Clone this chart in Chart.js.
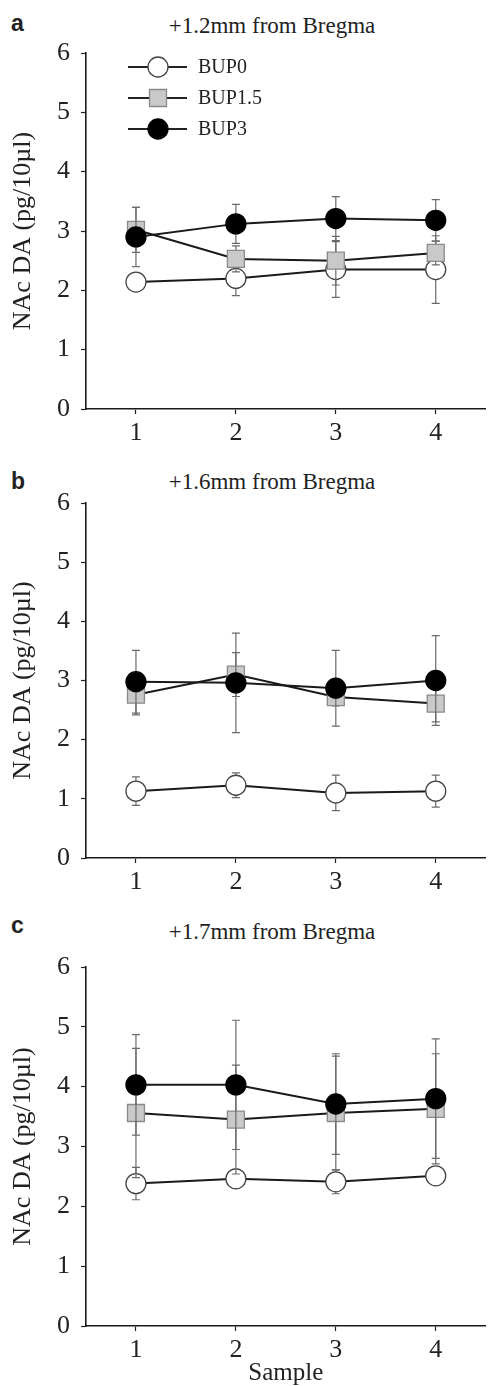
<!DOCTYPE html>
<html>
<head>
<meta charset="utf-8">
<title>NAc DA</title>
<script src="https://cdn.jsdelivr.net/npm/chart.js@4/dist/chart.umd.min.js"></script>
<style>
  html, body { margin: 0; padding: 0; background: #fff; }
  body { width: 499px; height: 1386px; position: relative; overflow: hidden; }
  canvas { position: absolute; left: 0; }
  .letra { position: absolute; left: 11px; font: bold 23px "Liberation Sans", Arial, sans-serif; line-height: 23px; color: #222; }
  .titulo { position: absolute; left: 72px; width: 400px; text-align: center; font: 23px "Liberation Serif", "Times New Roman", serif; line-height: 23px; color: #222; }
</style>
</head>
<body>
<div class="letra" style="top: 12px;">a</div>
<div class="titulo" style="top: 14px;">+1.2mm from Bregma</div>
<canvas id="graficoA" width="499" height="460" style="top: 0px;"></canvas>

<div class="letra" style="top: 470px;">b</div>
<div class="titulo" style="top: 470px;">+1.6mm from Bregma</div>
<canvas id="graficoB" width="499" height="445" style="top: 460px;"></canvas>

<div class="letra" style="top: 914px;">c</div>
<div class="titulo" style="top: 920px;">+1.7mm from Bregma</div>
<canvas id="graficoC" width="499" height="481" style="top: 905px;"></canvas>

<script>
// datos
const muestras = [1, 2, 3, 4];
const nombres = ['BUP0', 'BUP1.5', 'BUP3'];
const ticksY = [0, 1, 2, 3, 4, 5, 6];

// panel a: +1.2mm
const bup0A = [2.14, 2.20, 2.35, 2.35];
const bup0AErr = [0.05, 0.29, 0.47, 0.57];
const bup15A = [3.02, 2.53, 2.50, 2.63];
const bup15AErr = [0.38, 0.22, 0.41, 0.20];
const bup3A = [2.90, 3.12, 3.21, 3.18];
const bup3AErr = [0.50, 0.33, 0.37, 0.35];

// panel b: +1.6mm
const bup0B = [1.13, 1.23, 1.10, 1.13];
const bup0BErr = [0.24, 0.21, 0.30, 0.27];
const bup15B = [2.76, 3.10, 2.72, 2.61];
const bup15BErr = [0.34, 0.37, 0.15, 0.31];
const bup3B = [2.98, 2.96, 2.87, 3.00];
const bup3BErr = [0.53, 0.84, 0.64, 0.76];

// panel c: +1.7mm
const bup0C = [2.38, 2.46, 2.41, 2.51];
const bup0CErr = [0.27, 0.16, 0.20, 0.15];
const bup15C = [3.56, 3.45, 3.56, 3.63];
const bup15CErr = [1.08, 0.91, 0.95, 0.92];
const bup3C = [4.03, 4.03, 3.71, 3.80];
const bup3CErr = [0.84, 1.08, 0.84, 1.00];

const serif = '"Liberation Serif", "Times New Roman", serif';

// estilos de cada serie (BUP0, BUP1.5, BUP3)
const estilos = [
    { pointStyle: 'circle', radius: 10, fondo: '#ffffff', borde: '#444444', order: 3 },
    { pointStyle: 'rect', radius: 12, fondo: '#c9c9c9', borde: '#8a8a8a', order: 2 },
    { pointStyle: 'circle', radius: 10, fondo: '#000000', borde: '#000000', order: 1 },
];

// barras de error, dibujadas justo antes de cada serie
const barrasError = {
    id: 'barrasError',
    beforeDatasetDraw(chart, args) {
        const ds = chart.data.datasets[args.index];
        if (!ds.errores) return;
        const ctx = chart.ctx;
        const x = chart.scales.x;
        const y = chart.scales.y;
        ctx.save();
        ctx.strokeStyle = '#6a6a6a';
        ctx.lineWidth = 1.2;
        ds.data.forEach((p, i) => {
            const e = ds.errores[i];
            const px = x.getPixelForValue(p.x);
            const arriba = y.getPixelForValue(p.y + e);
            const abajo = y.getPixelForValue(p.y - e);
            ctx.beginPath();
            ctx.moveTo(px, arriba);
            ctx.lineTo(px, abajo);
            ctx.moveTo(px - 4, arriba);
            ctx.lineTo(px + 4, arriba);
            ctx.moveTo(px - 4, abajo);
            ctx.lineTo(px + 4, abajo);
            ctx.stroke();
        });
        ctx.restore();
    }
};

// leyenda propia: línea con el marcador en medio
const leyendaLinea = {
    id: 'leyendaLinea',
    afterDraw(chart, args, opts) {
        if (!opts.mostrar) return;
        const ctx = chart.ctx;
        const area = chart.chartArea;
        ctx.save();
        chart.data.datasets.forEach((ds, i) => {
            const fy = area.top + 14 + i * 31;
            ctx.strokeStyle = '#222';
            ctx.lineWidth = 2;
            ctx.beginPath();
            ctx.moveTo(area.left + 42, fy);
            ctx.lineTo(area.left + 101, fy);
            ctx.stroke();
            ctx.fillStyle = ds.pointBackgroundColor;
            ctx.strokeStyle = ds.pointBorderColor;
            ctx.lineWidth = ds.pointBorderWidth;
            Chart.helpers.drawPoint(ctx, {
                pointStyle: ds.pointStyle, radius: ds.pointRadius, rotation: 0, borderWidth: ds.pointBorderWidth
            }, area.left + 72, fy);
            ctx.fillStyle = '#222';
            ctx.font = '20px ' + serif;
            ctx.textBaseline = 'middle';
            ctx.textAlign = 'left';
            ctx.fillText(ds.label, area.left + 112, fy + 1);
        });
        ctx.restore();
    }
};

function armarSerie(i, valores, errores) {
    const est = estilos[i];
    return {
        label: nombres[i],
        data: muestras.map((m, k) => ({ x: m, y: valores[k] })),
        errores: errores,
        order: est.order,
        borderColor: '#1a1a1a',
        borderWidth: 2,
        pointStyle: est.pointStyle,
        pointRadius: est.radius,
        pointHoverRadius: est.radius,
        pointBackgroundColor: est.fondo,
        pointBorderColor: est.borde,
        pointBorderWidth: 1.3,
        tension: 0,
        fill: false,
    };
}

function graficarPanel(id, series, cfg) {
    const ctx = document.getElementById(id).getContext('2d');
    return new Chart(ctx, {
        type: 'line',
        data: {
            datasets: series.map((s, i) => armarSerie(i, s[0], s[1])),
        },
        options: {
            responsive: false,
            animation: false,
            devicePixelRatio: 1,
            layout: { padding: { top: cfg.arriba, left: 0, right: 0, bottom: 0 } },
            scales: {
                x: {
                    type: 'linear',
                    min: 0.5,
                    max: 4.5,
                    afterBuildTicks: (s) => { s.ticks = muestras.map(v => ({ value: v })); },
                    afterFit: (s) => { s.height = cfg.altoX; },
                    grid: { display: true, drawOnChartArea: false, drawTicks: true, tickLength: 5, tickColor: '#222', tickWidth: 1.2 },
                    border: { display: true, color: '#1a1a1a', width: 1.6 },
                    ticks: {
                        color: '#222', padding: 4, maxRotation: 0, autoSkip: false,
                        font: { family: serif, size: 26, lineHeight: 1.2 },
                        callback: (v) => String(v),
                    },
                    title: {
                        display: !!cfg.tituloX,
                        text: cfg.tituloX || '',
                        color: '#222',
                        font: { family: serif, size: 25, lineHeight: 1.0 },
                        padding: { top: 0, bottom: 0 },
                    },
                },
                y: {
                    min: 0,
                    max: 6,
                    afterBuildTicks: (s) => { s.ticks = ticksY.map(v => ({ value: v })); },
                    afterFit: (s) => { s.width = 86; },
                    grid: { display: true, drawOnChartArea: false, drawTicks: true, tickLength: 5, tickColor: '#222', tickWidth: 1.2 },
                    border: { display: true, color: '#1a1a1a', width: 1.6 },
                    ticks: {
                        color: '#222', padding: 11,
                        font: { family: serif, size: 26, lineHeight: 1.2 },
                    },
                    title: {
                        display: true,
                        text: 'NAc DA (pg/10µl)',
                        color: '#222',
                        font: { family: serif, size: 26, lineHeight: 1.2 },
                        padding: { top: 8, bottom: 0 },
                    },
                },
            },
            plugins: {
                legend: { display: false },
                tooltip: { enabled: false },
                leyendaLinea: { mostrar: !!cfg.leyenda },
            },
        },
        plugins: [barrasError, leyendaLinea],
    });
}

graficarPanel('graficoA', [[bup0A, bup0AErr], [bup15A, bup15AErr], [bup3A, bup3AErr]],
    { arriba: 53, altoX: 51, leyenda: true });
graficarPanel('graficoB', [[bup0B, bup0BErr], [bup15B, bup15BErr], [bup3B, bup3BErr]],
    { arriba: 43, altoX: 47 });
graficarPanel('graficoC', [[bup0C, bup0CErr], [bup15C, bup15CErr], [bup3C, bup3CErr]],
    { arriba: 62, altoX: 60, tituloX: 'Sample' });
</script>
</body>
</html>
